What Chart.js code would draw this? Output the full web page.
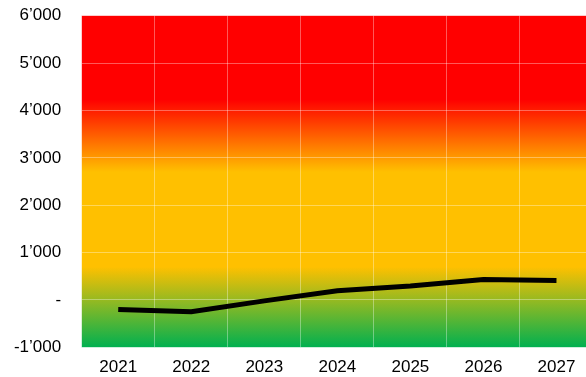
<!DOCTYPE html>
<html>
<head>
<meta charset="utf-8">
<script src="https://cdn.jsdelivr.net/npm/chart.js@4"></script>
<style>
  html, body { margin: 0; padding: 0; background: #fff; overflow: hidden; }
  #wrap { width: 593px; height: 377px; position: relative; }
</style>
</head>
<body>
<div id="wrap"><canvas id="trendChart"></canvas></div>
<script>
const YEARS = ["2021", "2022", "2023", "2024", "2025", "2026", "2027"];
const VALUES = [-200, -250, -20, 195, 295, 430, 410];
const Y_MIN = -1000;
const Y_MAX = 6000;
const Y_STEP = 1000;

// background bands: value where each colour is fully reached
const BAND_STOPS = [
  { value: 6000, color: "#FF0000" },
  { value: 4230, color: "#FF0000" },
  { value: 2700, color: "#FFC000" },
  { value: 700, color: "#FFC000" },
  { value: -1000, color: "#00B050" }
];

function formatTick(v) {
  if (v === 0) return "-";
  const s = Math.abs(v).toString().replace(/\B(?=(\d{3})+(?!\d))/g, "\u2019");
  return (v < 0 ? "-" : "") + s;
}

const bandBackground = {
  id: "bandBackground",
  beforeDraw(chart) {
    const { ctx, chartArea } = chart;
    const y = chart.scales.y;
    if (!chartArea) return;
    const top = y.getPixelForValue(Y_MAX);
    const bottom = y.getPixelForValue(Y_MIN);
    const grad = ctx.createLinearGradient(0, top, 0, bottom);
    BAND_STOPS.forEach(s => {
      const pos = (y.getPixelForValue(s.value) - top) / (bottom - top);
      grad.addColorStop(Math.min(1, Math.max(0, pos)), s.color);
    });
    ctx.save();
    ctx.fillStyle = grad;
    ctx.fillRect(chartArea.left, chartArea.top, chartArea.right - chartArea.left, chartArea.bottom - chartArea.top);
    ctx.restore();
  }
};

const font = { family: "'Liberation Sans', Arial, sans-serif", size: 17 };

new Chart(document.getElementById("trendChart"), {
  type: "line",
  data: {
    labels: YEARS,
    datasets: [{
      data: VALUES,
      borderColor: "#000000",
      borderWidth: 5,
      borderCapStyle: "butt",
      pointRadius: 0,
      tension: 0,
      fill: false
    }]
  },
  options: {
    responsive: true,
    maintainAspectRatio: false,
    animation: false,
    layout: { padding: { top: 15.7, left: 14, right: 0, bottom: 0 } },
    plugins: { legend: { display: false }, tooltip: { enabled: false } },
    scales: {
      x: {
        offset: true,
        grid: { offset: true, color: "rgba(255,255,255,0.35)", drawTicks: false },
        border: { display: false },
        ticks: { color: "#000", font: font, padding: 10, maxRotation: 0 },
        afterFit: s => { s.height = 29.7; }
      },
      y: {
        min: Y_MIN,
        max: Y_MAX,
        grid: { color: "rgba(255,255,255,0.35)", drawTicks: false },
        border: { display: false },
        ticks: {
          stepSize: Y_STEP,
          color: "#000",
          font: font,
          padding: 20.5,
          callback: v => formatTick(v)
        },
        afterFit: s => {
          s.width = 67.7;
          s.paddingTop = 0;
          s.paddingBottom = 0;
        }
      }
    }
  },
  plugins: [bandBackground]
});
</script>
</body>
</html>
